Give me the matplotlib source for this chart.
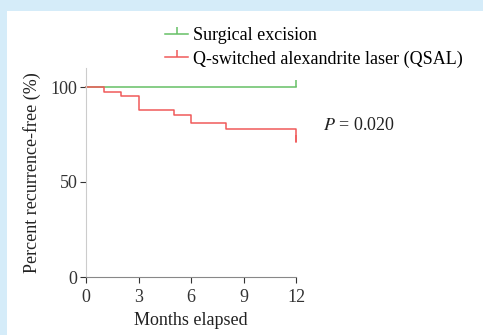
import matplotlib.pyplot as plt
from matplotlib.patches import Rectangle

# Kaplan-Meier steps
months_surg = [0, 12]
free_surg = [100, 100]
months_qsal = [0, 1, 2, 3, 5, 6, 8, 12]
free_qsal = [100, 97.4, 95.1, 87.9, 85.5, 80.8, 77.9, 71.2]
xticks = [0, 3, 6, 9, 12]
yticks = [0, 50, 100]

plt.rcParams['font.family'] = ['Liberation Serif', 'DejaVu Serif']
plt.rcParams['mathtext.fontset'] = 'stix'

W, H = 483, 335
fs = 13
fig = plt.figure(figsize=(W / 100, H / 100), dpi=100)
fig.patch.set_facecolor('#d5ecf9')
fig.patches.append(Rectangle((7 / W, 0), 1, 1 - 11 / H, transform=fig.transFigure,
                             facecolor='white', edgecolor='none', zorder=-1))

ax = fig.add_axes([86 / W, 1 - 277 / H, 210 / W, 209 / H])
ax.set_facecolor('none')
ax.set_zorder(2)

green = '#66c066'
red = '#f05a5a'
ax.step(months_surg, free_surg, where='post', color=green, lw=1.1, clip_on=False)
ax.plot([months_surg[-1]], [free_surg[-1]], marker=2, ms=5, mew=1.1, color=green,
        clip_on=False, ls='none')
ax.step(months_qsal, free_qsal, where='post', color=red, lw=1.1, clip_on=False)
ax.plot([months_qsal[-1]], [free_qsal[-1]], marker=2, ms=5, mew=1.1, color=red,
        clip_on=False, ls='none')

# legend proxies
ax.plot([], [], color=green, lw=1.1, marker=2, ms=5, mew=1.1, label='Surgical excision')
ax.plot([], [], color=red, lw=1.1, marker=2, ms=5, mew=1.1,
        label='Q-switched alexandrite laser (QSAL)')
handles, labels = ax.get_legend_handles_labels()
fig.legend(handles[-2:], labels[-2:], loc='upper left', bbox_to_anchor=(165 / W, 1 - 27 / H),
           frameon=False, fontsize=fs, handlelength=1.3, handletextpad=0.25,
           labelspacing=0.35, borderpad=0, borderaxespad=0)

ax.set_xlim(0, 12)
ax.set_ylim(0, 110)
ax.set_xticks(xticks)
ax.set_yticks(yticks)
ax.tick_params(labelsize=fs, colors='#333333', length=4, width=0.8, pad=2)
ax.tick_params(axis='x', pad=5)
for s in ['top', 'right']:
    ax.spines[s].set_visible(False)
ax.spines['left'].set_color('#cccccc')
ax.spines['bottom'].set_color('#888888')
ax.spines['left'].set_linewidth(0.8)
ax.spines['bottom'].set_linewidth(0.8)

ax.set_xlabel('Months elapsed', fontsize=fs, color='#222222', labelpad=4)
ax.set_ylabel('Percent recurrence-free (%)', fontsize=fs, color='#222222', labelpad=7)

ax.text(323 / W, 1 - 125 / H, '$P$ = 0.020', transform=fig.transFigure, fontsize=fs,
        color='#222222', va='center', ha='left')

fig.savefig('out.png', dpi=100)
